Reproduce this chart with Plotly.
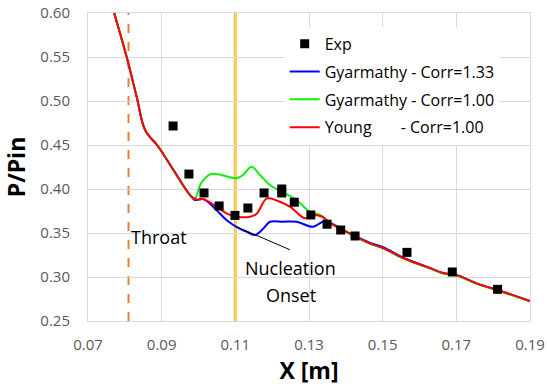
import plotly.graph_objects as go

# ---------------- data ----------------
exp_x = [0.0931, 0.0974, 0.1015, 0.1056, 0.1099, 0.1134, 0.1178, 0.1226, 0.1226,
         0.1260, 0.1305, 0.1349, 0.1386, 0.1425, 0.1566, 0.1689, 0.1812]
exp_y = [0.4716, 0.417, 0.3955, 0.3807, 0.370, 0.3784, 0.3955, 0.400, 0.3955,
         0.385, 0.3705, 0.360, 0.3534, 0.3466, 0.328, 0.3057, 0.286]

young_x = [0.0771, 0.0805, 0.0832, 0.0855, 0.0891, 0.0932, 0.0977, 0.0995, 0.1012,
           0.1049, 0.1076, 0.1103, 0.114, 0.1158, 0.1185, 0.1212, 0.1248, 0.1289,
           0.1311, 0.1336, 0.1357, 0.1419, 0.1465, 0.1501, 0.1555, 0.1628, 0.1664,
           0.1700, 0.1755, 0.1826, 0.19]
young_y = [0.600, 0.550, 0.505, 0.467, 0.448, 0.4216, 0.393, 0.388, 0.3886,
           0.380, 0.3724, 0.3685, 0.3685, 0.372, 0.389, 0.387, 0.380, 0.3667,
           0.3705, 0.3685, 0.3614, 0.3477, 0.3383, 0.333, 0.3216, 0.3102, 0.3045,
           0.3023, 0.2928, 0.2833, 0.2727]

gy100_x = [0.0771, 0.0805, 0.0832, 0.0855, 0.0891, 0.0932, 0.0977, 0.0990, 0.1007,
           0.1034, 0.1061, 0.1103, 0.1121, 0.1144, 0.1167, 0.1194, 0.1226, 0.1266,
           0.1302, 0.1330, 0.1357, 0.1419, 0.1465, 0.1501, 0.1555, 0.1628, 0.1664,
           0.1700, 0.1755, 0.1826, 0.19]
gy100_y = [0.600, 0.550, 0.505, 0.467, 0.448, 0.4216, 0.393, 0.389, 0.4065,
           0.417, 0.416, 0.4122, 0.416, 0.4253, 0.416, 0.4045, 0.397, 0.3875,
           0.3742, 0.3705, 0.3614, 0.3472, 0.3378, 0.3325, 0.3212, 0.3098, 0.3040,
           0.3018, 0.2922, 0.2828, 0.2722]

gy133_x = [0.0771, 0.0805, 0.0832, 0.0855, 0.0891, 0.0932, 0.0977, 0.0990, 0.1013,
           0.1049, 0.1076, 0.1103, 0.113, 0.1153, 0.1176, 0.1194, 0.123, 0.1266,
           0.1311, 0.1338, 0.1357, 0.1419, 0.1465, 0.1501, 0.1555, 0.1628, 0.1664,
           0.1700, 0.1755, 0.1826, 0.19]
gy133_y = [0.600, 0.550, 0.505, 0.467, 0.448, 0.4216, 0.393, 0.3875, 0.3885,
           0.376, 0.3648, 0.357, 0.3515, 0.3477, 0.355, 0.3628, 0.3628, 0.3628,
           0.357, 0.3628, 0.3614, 0.3477, 0.3390, 0.3340, 0.3222, 0.3102, 0.3045,
           0.3023, 0.2928, 0.2833, 0.2727]

throat_x = 0.081
onset_x = 0.11

x_ticks = [0.07, 0.09, 0.11, 0.13, 0.15, 0.17, 0.19]
y_ticks = [0.25, 0.30, 0.35, 0.40, 0.45, 0.50, 0.55, 0.60]

FONT = "Open Sans"

fig = go.Figure()

fig.add_trace(go.Scatter(x=gy133_x, y=gy133_y, mode="lines", line_shape="spline",
                         name="Gyarmathy - Corr=1.33", line=dict(color="#0000FF", width=2),
                         legendrank=2, legendgroup="b"))
fig.add_trace(go.Scatter(x=gy100_x, y=gy100_y, mode="lines", line_shape="spline",
                         name="Gyarmathy - Corr=1.00", line=dict(color="#11EE11", width=2),
                         legendrank=3, legendgroup="c"))
fig.add_trace(go.Scatter(x=young_x, y=young_y, mode="lines", line_shape="spline",
                         name="Young\u00a0\u00a0\u00a0\u00a0\u00a0\u00a0\u00a0- Corr=1.00",
                         line=dict(color="#FF0000", width=2),
                         legendrank=4, legendgroup="d"))
fig.add_trace(go.Scatter(x=exp_x, y=exp_y, mode="markers", name="Exp",
                         marker=dict(symbol="square", color="black", size=9),
                         legendrank=1, legendgroup="a"))

fig.add_shape(type="line", xref="x", yref="paper", x0=throat_x, x1=throat_x, y0=0, y1=1,
              line=dict(color="#ED7D31", width=2, dash="dash"), layer="below")
fig.add_shape(type="line", xref="x", yref="paper", x0=onset_x, x1=onset_x, y0=0, y1=1,
              line=dict(color="#FFC000", width=3), layer="below")
fig.add_shape(type="line", xref="x", yref="y", x0=0.1104, y0=0.357, x1=0.1248, y1=0.331,
              line=dict(color="black", width=1))

fig.add_annotation(x=throat_x, y=0.3455, text="Throat", showarrow=False, xanchor="left",
                   yanchor="middle", font=dict(family=FONT, size=18, color="black"))
fig.add_annotation(x=0.1251, y=0.310, text="Nucleation", showarrow=False, xanchor="center",
                   yanchor="middle", font=dict(family=FONT, size=18, color="black"))
fig.add_annotation(x=0.1251, y=0.2795, text="Onset", showarrow=False, xanchor="center",
                   yanchor="middle", font=dict(family=FONT, size=18, color="black"))

fig.update_layout(
    width=547, height=389,
    margin=dict(l=88, r=17, t=13, b=68, autoexpand=False),
    paper_bgcolor="white", plot_bgcolor="white",
    font=dict(family=FONT, size=15, color="#595959"),
    legend=dict(x=0.445, y=0.955, xanchor="left", yanchor="top",
                bgcolor="white", font=dict(family=FONT, size=16, color="black"),
                traceorder="grouped", tracegroupgap=4, itemwidth=30),
    xaxis=dict(range=[0.07, 0.19], tickvals=x_ticks, ticktext=[f"{v:.2f}" for v in x_ticks],
               showgrid=True, gridcolor="#D9D9D9", gridwidth=1, automargin=False,
               showline=True, linecolor="#D9D9D9", mirror=True, zeroline=False,
               ticks="", ticklabelstandoff=10,
               tickfont=dict(size=15, color="#595959"),
               title=dict(text="<b>X [m]</b>", font=dict(size=23, color="black"), standoff=6)),
    yaxis=dict(range=[0.25, 0.60], tickvals=y_ticks, ticktext=[f"{v:.2f}" for v in y_ticks],
               showgrid=True, gridcolor="#D9D9D9", gridwidth=1, automargin=False,
               showline=True, linecolor="#D9D9D9", mirror=True, zeroline=False,
               ticks="", ticklabelstandoff=14,
               tickfont=dict(size=15, color="#595959"),
               title=dict(text="<b>P/Pin</b>", font=dict(size=23, color="black"), standoff=8)),
    showlegend=True,
)

fig.write_html("out.html")
